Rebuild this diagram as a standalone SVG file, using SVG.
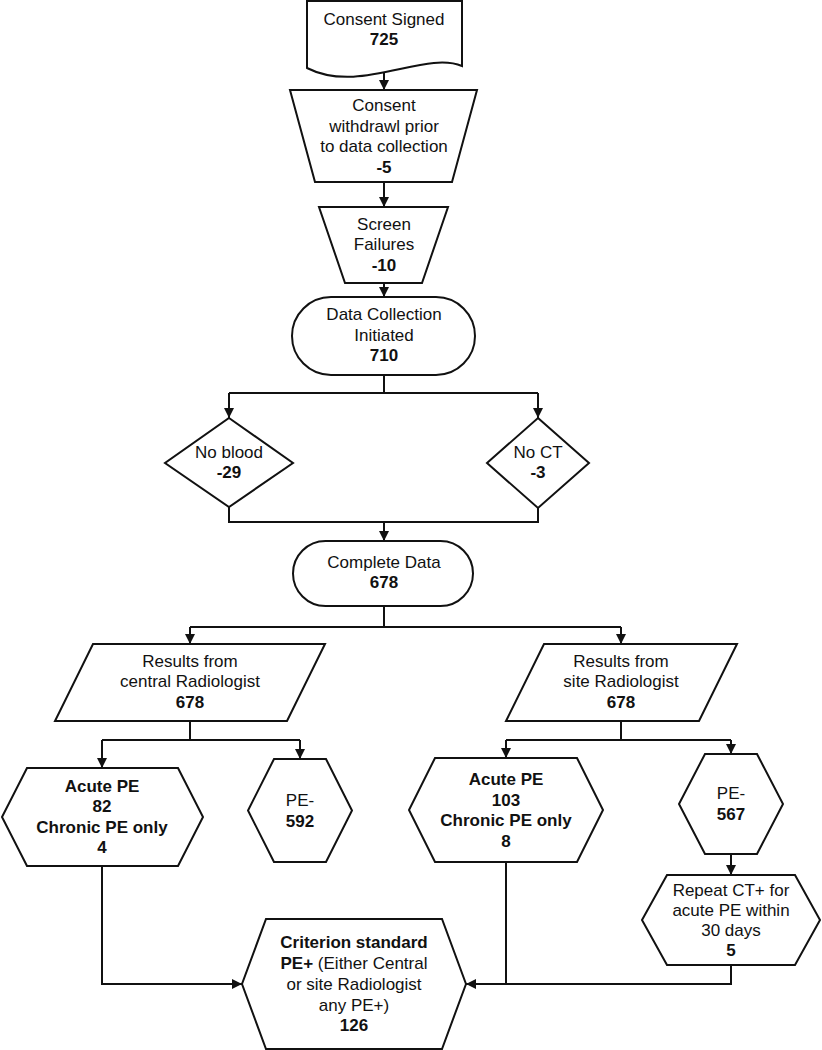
<svg xmlns="http://www.w3.org/2000/svg" width="822" height="1050" viewBox="0 0 822 1050">
<defs>
<marker id="arr" markerWidth="10" markerHeight="10" refX="10" refY="5" orient="auto" markerUnits="userSpaceOnUse">
<path d="M0,0 L10,5 L0,10 z" fill="#111"/>
</marker>
<style>
.s{fill:#fff;stroke:#111;stroke-width:2;stroke-linejoin:miter}
.c{fill:none;stroke:#111;stroke-width:2}
.a{marker-end:url(#arr)}
text{font-family:"Liberation Sans",Arial,sans-serif;font-size:17px;fill:#111;text-anchor:middle}
.b{font-weight:bold}
</style>
</defs>
<rect width="822" height="1050" fill="#fff"/>
<g id="connectors">
<path class="c a" d="M384,72 V90"/>
<path class="c a" d="M384,182 V207"/>
<path class="c a" d="M384,283 V297"/>
<path class="c" d="M384,375 V393 M229,393 H538"/>
<path class="c a" d="M229,393 V418"/>
<path class="c a" d="M538,393 V418"/>
<path class="c" d="M229,507 V522 H538 V508"/>
<path class="c a" d="M384,522 V541"/>
<path class="c" d="M384,606 V627 M190,627 H621"/>
<path class="c a" d="M190,627 V644"/>
<path class="c a" d="M621,627 V644"/>
<path class="c" d="M190,721 V740 M102,740 H300"/>
<path class="c a" d="M102,740 V768"/>
<path class="c a" d="M300,740 V759"/>
<path class="c" d="M621,721 V740 M506,740 H731"/>
<path class="c a" d="M506,740 V758"/>
<path class="c a" d="M731,740 V754"/>
<path class="c a" d="M731,854 V875"/>
<path class="c a" d="M102,866 V984 H242"/>
<path class="c" d="M506,862 V984"/>
<path class="c a" d="M731,965 V984 H466"/>
</g>
<g id="consent-signed">
<path class="s" d="M307,1 H462 V66 C425,50 360,95 307,68 Z"/>
<text x="384" y="25">Consent Signed</text>
<text class="b" x="384" y="45">725</text>
</g>
<g id="consent-withdrawl">
<polygon class="s" points="290,90 477,90 452,182 315,182"/>
<text x="384" y="111">Consent</text>
<text x="384" y="132">withdrawl prior</text>
<text x="384" y="152">to data collection</text>
<text class="b" x="384" y="173">-5</text>
</g>
<g id="screen-failures">
<polygon class="s" points="319,207 448,207 422,283 345,283"/>
<text x="384" y="230">Screen</text>
<text x="384" y="250">Failures</text>
<text class="b" x="384" y="271">-10</text>
</g>
<g id="data-collection">
<rect class="s" x="292" y="297" width="183" height="78" rx="39" ry="39"/>
<text x="384" y="320">Data Collection</text>
<text x="384" y="341">Initiated</text>
<text class="b" x="384" y="361">710</text>
</g>
<g id="no-blood">
<polygon class="s" points="229,418 293,463 229,507 165,463"/>
<text x="229" y="458">No blood</text>
<text class="b" x="229" y="478">-29</text>
</g>
<g id="no-ct">
<polygon class="s" points="538,418 589,463 538,508 487,463"/>
<text x="538" y="458">No CT</text>
<text class="b" x="538" y="478">-3</text>
</g>
<g id="complete-data">
<rect class="s" x="293" y="541" width="180" height="65" rx="32.5" ry="32.5"/>
<text x="384" y="568">Complete Data</text>
<text class="b" x="384" y="588">678</text>
</g>
<g id="central-radiologist">
<polygon class="s" points="93,644 325,644 287,721 55,721"/>
<text x="190" y="667">Results from</text>
<text x="190" y="687">central Radiologist</text>
<text class="b" x="190" y="708">678</text>
</g>
<g id="site-radiologist">
<polygon class="s" points="544,644 737,644 699,721 506,721"/>
<text x="621" y="667">Results from</text>
<text x="621" y="687">site Radiologist</text>
<text class="b" x="621" y="708">678</text>
</g>
<g id="central-acute">
<polygon class="s" points="27,768 178,768 203,817 178,866 27,866 2,817"/>
<text class="b" x="102" y="792">Acute PE</text>
<text class="b" x="102" y="812">82</text>
<text class="b" x="102" y="833">Chronic PE only</text>
<text class="b" x="102" y="853">4</text>
</g>
<g id="central-neg">
<polygon class="s" points="274,759 326,759 352,810.5 326,862 274,862 248,810.5"/>
<text x="300" y="806">PE-</text>
<text class="b" x="300" y="827">592</text>
</g>
<g id="site-acute">
<polygon class="s" points="435,758 577,758 603,810 577,862 435,862 409,810"/>
<text class="b" x="506" y="785">Acute PE</text>
<text class="b" x="506" y="806">103</text>
<text class="b" x="506" y="826">Chronic PE only</text>
<text class="b" x="506" y="847">8</text>
</g>
<g id="site-neg">
<polygon class="s" points="705,754 757,754 783,804 757,854 705,854 679,804"/>
<text x="731" y="799">PE-</text>
<text class="b" x="731" y="820">567</text>
</g>
<g id="repeat-ct">
<polygon class="s" points="667,875 795,875 820,920 795,965 667,965 642,920"/>
<text x="731" y="896">Repeat CT+ for</text>
<text x="731" y="916">acute PE within</text>
<text x="731" y="936">30 days</text>
<text class="b" x="731" y="956">5</text>
</g>
<g id="criterion">
<polygon class="s" points="266,919 442,919 466,984 442,1049 266,1049 242,984"/>
<text class="b" x="354" y="948">Criterion standard</text>
<text x="354" y="969"><tspan class="b">PE+</tspan> (Either Central</text>
<text x="354" y="990">or site Radiologist</text>
<text x="354" y="1011">any PE+)</text>
<text class="b" x="354" y="1031">126</text>
</g>
</svg>
